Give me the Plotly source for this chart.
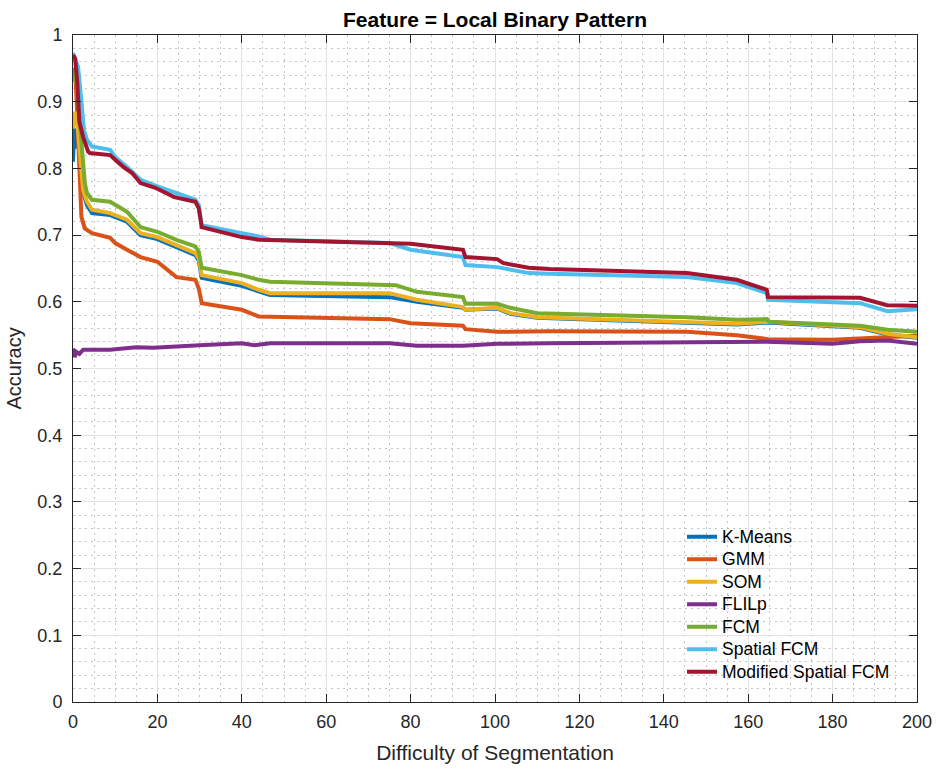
import plotly.graph_objects as go

# ---- data ----
names = ["K-Means", "GMM", "SOM", "FLILp", "FCM", "Spatial FCM", "Modified Spatial FCM"]
colors = ["#0072BD", "#D95319", "#EDB120", "#7E2F8E", "#77AC30", "#4DBEEE", "#A2142F"]

kmeans_x = [0, 0.3, 0.6, 1, 1.6, 2.4, 3.3, 4.5, 8.8, 12.8, 16, 20, 24.5, 29, 29.8, 30.5, 40, 44, 46.7, 75, 81.5, 92.4, 93, 100.5, 103.6, 110, 157.3, 164.4, 186.5, 193, 200]
kmeans_y = [0.81, 0.86, 0.83, 0.85, 0.82, 0.765, 0.745, 0.733, 0.73, 0.72, 0.70, 0.694, 0.682, 0.67, 0.662, 0.636, 0.624, 0.615, 0.61, 0.607, 0.60, 0.591, 0.588, 0.59, 0.582, 0.576, 0.566, 0.569, 0.561, 0.551, 0.546]

gmm_x = [0, 0.5, 1, 1.5, 2, 2.8, 4.5, 8.8, 10, 12.8, 16, 20, 24.5, 29, 29.8, 30.5, 40, 44, 75, 80, 92.4, 93, 100.5, 113, 145.5, 157.3, 164.7, 180, 193, 200]
gmm_y = [0.94, 0.95, 0.88, 0.80, 0.727, 0.71, 0.703, 0.696, 0.688, 0.678, 0.667, 0.66, 0.637, 0.633, 0.62, 0.598, 0.588, 0.578, 0.574, 0.568, 0.564, 0.559, 0.555, 0.556, 0.555, 0.55, 0.544, 0.543, 0.547, 0.549]

som_x = [0, 0.5, 1, 1.6, 2.4, 3.3, 4.5, 8.8, 12.8, 16, 20, 24.5, 29, 29.8, 30.5, 40, 44, 46.7, 75, 81.5, 92.4, 93, 100.5, 103.6, 110, 157.3, 164.4, 186.5, 193, 200]
som_y = [0.86, 0.885, 0.87, 0.83, 0.768, 0.75, 0.738, 0.733, 0.723, 0.703, 0.697, 0.685, 0.673, 0.665, 0.64, 0.628, 0.618, 0.613, 0.613, 0.603, 0.592, 0.588, 0.591, 0.583, 0.577, 0.567, 0.57, 0.562, 0.552, 0.547]

flilp_x = [0, 0.4, 0.8, 1.5, 2.4, 8.8, 15, 19, 30, 40, 43, 46.7, 75, 81.5, 92.4, 100.5, 113, 145.5, 164.4, 180, 186.5, 193, 200]
flilp_y = [0.53, 0.517, 0.525, 0.522, 0.528, 0.528, 0.532, 0.531, 0.535, 0.538, 0.535, 0.538, 0.538, 0.534, 0.534, 0.537, 0.538, 0.54, 0.54, 0.537, 0.541, 0.542, 0.537]

fcm_x = [0, 0.6, 1.2, 2, 2.8, 3.3, 4.5, 8.8, 10, 12.8, 16, 20, 24.5, 29, 29.8, 30.5, 40, 44, 46.7, 76.5, 81.5, 92.4, 93, 100.5, 103.6, 110, 145.5, 157.3, 164.4, 165, 186.5, 193, 200]
fcm_y = [0.93, 0.948, 0.90, 0.843, 0.778, 0.763, 0.753, 0.75, 0.745, 0.735, 0.712, 0.705, 0.693, 0.683, 0.675, 0.651, 0.64, 0.633, 0.63, 0.625, 0.615, 0.607, 0.597, 0.597, 0.591, 0.583, 0.577, 0.573, 0.574, 0.57, 0.564, 0.558, 0.555]

sfcm_x = [0, 1.2, 2, 2.6, 3.3, 4.5, 8.8, 10, 12.8, 16, 20, 24.5, 29, 29.8, 30.5, 40, 44, 46.7, 75, 80, 92.4, 93, 100.5, 108, 113, 145.5, 157.3, 164.4, 164.7, 186.5, 193, 200]
sfcm_y = [0.973, 0.952, 0.90, 0.857, 0.843, 0.833, 0.828, 0.817, 0.802, 0.783, 0.773, 0.763, 0.753, 0.745, 0.715, 0.703, 0.698, 0.693, 0.688, 0.678, 0.667, 0.655, 0.652, 0.643, 0.642, 0.637, 0.628, 0.613, 0.603, 0.598, 0.586, 0.589]

msfcm_x = [0, 0.5, 1, 1.5, 2.4, 3.6, 4, 8.8, 10, 12, 14, 16, 19.5, 24, 29, 29.8, 30.5, 40, 44, 60, 75, 80, 92.4, 93, 100.5, 102, 108, 113, 145.5, 157.3, 164.4, 164.7, 186.5, 192.9, 200]
msfcm_y = [0.97, 0.965, 0.93, 0.87, 0.847, 0.825, 0.823, 0.82, 0.813, 0.802, 0.793, 0.778, 0.771, 0.757, 0.75, 0.74, 0.712, 0.697, 0.693, 0.69, 0.688, 0.687, 0.678, 0.667, 0.664, 0.658, 0.651, 0.649, 0.643, 0.633, 0.618, 0.607, 0.606, 0.595, 0.594]

series_x = [kmeans_x, gmm_x, som_x, flilp_x, fcm_x, sfcm_x, msfcm_x]
series_y = [kmeans_y, gmm_y, som_y, flilp_y, fcm_y, sfcm_y, msfcm_y]

x_ticks = [0, 20, 40, 60, 80, 100, 120, 140, 160, 180, 200]
y_ticks = [0, 0.1, 0.2, 0.3, 0.4, 0.5, 0.6, 0.7, 0.8, 0.9, 1]

FONT = "Liberation Sans, Arial, Helvetica, sans-serif"
AX = "#262626"

fig = go.Figure()
for n, c, xs, ys in zip(names, colors, series_x, series_y):
    fig.add_trace(go.Scatter(x=xs, y=ys, mode="lines",
                             name="<span style='font-size:17.5px'>" + n + "</span>",
                             line=dict(color=c, width=4)))

axis_common = dict(
    showline=True, linecolor=AX, linewidth=1, mirror="ticks",
    ticks="inside", ticklen=8, tickcolor=AX, tickwidth=1,
    showgrid=True, gridcolor="#e3e3e3", gridwidth=1,
    zeroline=False, automargin=False,
    tickfont=dict(family=FONT, size=18, color=AX),
)

fig.update_xaxes(range=[0, 200], tickvals=x_ticks, ticklabelstandoff=3,
                 title=dict(text="Difficulty of Segmentation", font=dict(family=FONT, size=21, color=AX), standoff=14),
                 minor=dict(dtick=5, showgrid=True, gridcolor="#c4c4c4", griddash="2px,4px", gridwidth=1, ticks=""),
                 **axis_common)
fig.update_yaxes(range=[0, 1], tickvals=y_ticks, ticklabelstandoff=6,
                 title=dict(text="Accuracy", font=dict(family=FONT, size=20, color=AX), standoff=10),
                 minor=dict(dtick=0.02, showgrid=True, gridcolor="#c4c4c4", griddash="2px,4px", gridwidth=1, ticks=""),
                 **axis_common)

fig.update_layout(
    width=937, height=769,
    margin=dict(l=73, r=20, t=35, b=67),
    paper_bgcolor="white", plot_bgcolor="white",
    title=dict(text="<b>Feature = Local Binary Pattern</b>", x=0.5, xref="paper",
               y=0.975, yref="container", yanchor="middle",
               font=dict(family=FONT, size=21, color="black")),
    legend=dict(x=0.7216, y=0.272, xanchor="left", yanchor="top",
                bgcolor="rgba(0,0,0,0)", borderwidth=0,
                font=dict(family=FONT, size=15, color="black"),
                tracegroupgap=0),
    font=dict(family=FONT),
)

fig.write_html(
    "out.html",
    config={"displayModeBar": False},
    post_script="document.body.style.margin='0';document.body.style.overflow='hidden';"
                "document.documentElement.style.overflow='hidden';",
)
